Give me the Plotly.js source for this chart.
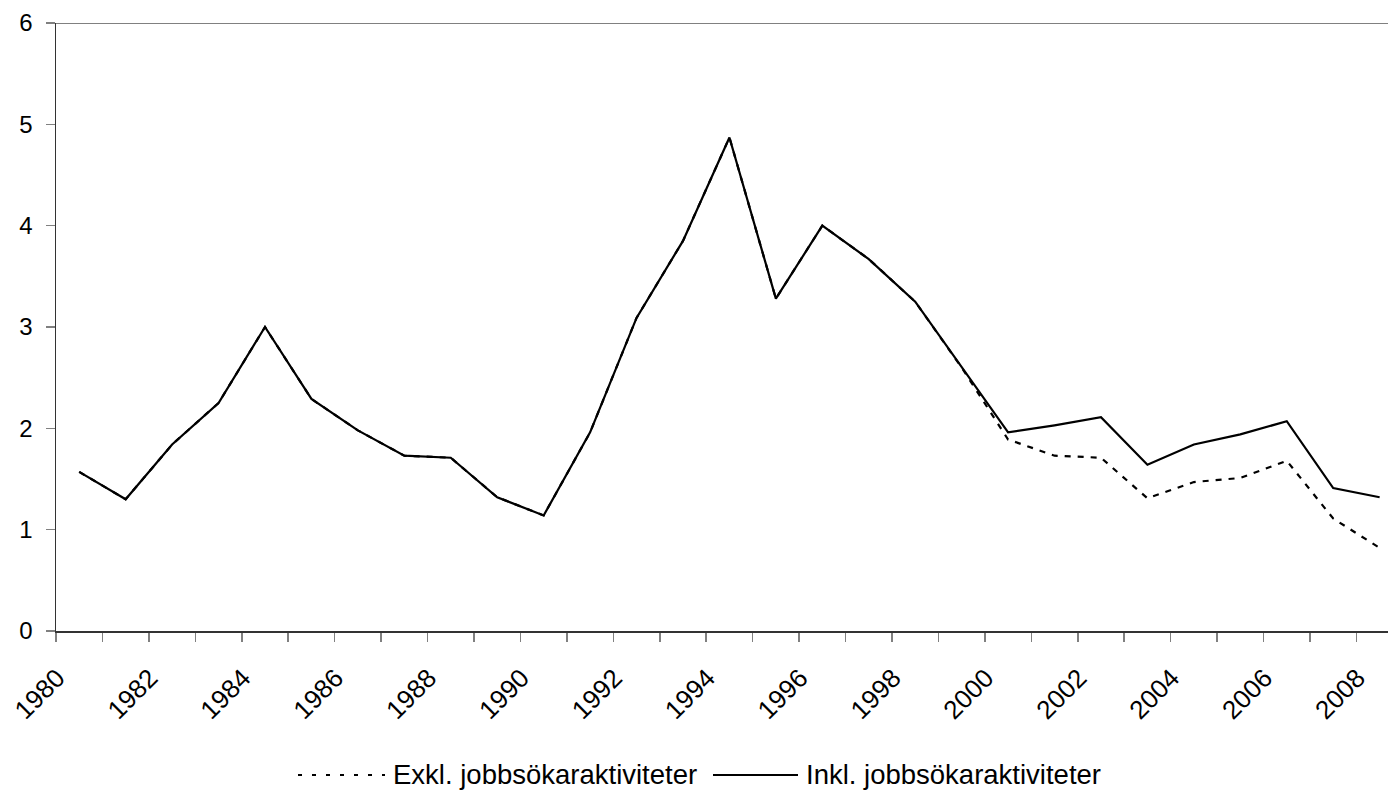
<!DOCTYPE html>
<html>
<head>
<meta charset="utf-8">
<script src="https://cdn.plot.ly/plotly-3.0.1.min.js"></script>
<style>html,body{margin:0;padding:0;overflow:hidden;background:#fff;}#chart{width:1388px;height:790px;}</style>
</head>
<body>
<div id="chart"></div>
<script>
const years = [1980,1981,1982,1983,1984,1985,1986,1987,1988,1989,1990,1991,1992,1993,1994,1995,1996,1997,1998,1999,2000,2001,2002,2003,2004,2005,2006,2007,2008];
const inkl = [1.57,1.30,1.84,2.25,3.00,2.29,1.98,1.73,1.71,1.32,1.14,1.96,3.09,3.85,4.87,3.28,4.00,3.67,3.25,2.60,1.96,2.03,2.11,1.64,1.84,1.94,2.07,1.41,1.32];
const exkl = [1.57,1.30,1.84,2.25,3.00,2.29,1.98,1.73,1.71,1.32,1.14,1.96,3.09,3.85,4.87,3.28,4.00,3.67,3.25,2.60,1.89,1.73,1.71,1.31,1.47,1.51,1.68,1.11,0.82];
const tickYears = [1980,1982,1984,1986,1988,1990,1992,1994,1996,1998,2000,2002,2004,2006,2008];
const tickLabels = tickYears.map(String);
const yTicks = [0,1,2,3,4,5,6];
const seriesNames = ['Exkl. jobbsökaraktiviteter','Inkl. jobbsökaraktiviteter'];

const FONT = 'Liberation Sans, Arial, sans-serif';

const traces = [
  {x: years, y: exkl, type:'scatter', mode:'lines', name: seriesNames[0],
   line:{color:'#000', width:2.2, dash:'6px,7px'}, showlegend:false},
  {x: years, y: inkl, type:'scatter', mode:'lines', name: seriesNames[1],
   line:{color:'#000', width:2.2}, showlegend:false}
];

function px2x(px){ return (px-56)/1332; }
function py2y(py){ return (631-py)/608; }

const layout = {
  width:1388, height:790,
  margin:{l:56, r:0, t:23, b:159, pad:0},
  paper_bgcolor:'#fff', plot_bgcolor:'#fff',
  font:{family:FONT, color:'#000'},
  showlegend:false,
  xaxis:{
    type:'linear', range:[1979.5, 2008.18],
    tickmode:'array', tickvals: tickYears, ticktext: tickLabels,
    ticks:'', tickangle:-45,
    showline:true, linecolor:'#333', linewidth:1.5,
    showgrid:false, zeroline:false,
    tickfont:{family:FONT, size:26, color:'#000'},
    ticklabelshift:-22, ticklabelstandoff:20,
    minor:{tickmode:'linear', tick0:1979.5, dtick:1, ticks:'outside', ticklen:9, tickcolor:'#808080', tickwidth:1.5, showgrid:false}
  },
  yaxis:{
    range:[0,6], tickmode:'array', tickvals:yTicks,
    ticks:'outside', ticklen:9, tickcolor:'#808080', tickwidth:1.5,
    showline:true, linecolor:'#333', linewidth:1.5,
    showgrid:false, zeroline:false,
    tickfont:{family:FONT, size:24, color:'#000'},
    ticklabelstandoff:8
  },
  shapes:[
    {type:'line', xref:'paper', yref:'y', x0:0, x1:1, y0:6, y1:6, line:{color:'#808080', width:2}},
    {type:'line', xref:'paper', yref:'paper', x0:px2x(298), x1:px2x(385), y0:py2y(775), y1:py2y(775), line:{color:'#000', width:2.2, dash:'4px,10px'}},
    {type:'line', xref:'paper', yref:'paper', x0:px2x(713), x1:px2x(798), y0:py2y(775), y1:py2y(775), line:{color:'#000', width:2}}
  ],
  annotations:[
    {xref:'paper', yref:'paper', x:px2x(391), y:py2y(774), xanchor:'left', yanchor:'middle', showarrow:false, text:seriesNames[0], font:{family:FONT, size:27.5, color:'#000'}},
    {xref:'paper', yref:'paper', x:px2x(804), y:py2y(774), xanchor:'left', yanchor:'middle', showarrow:false, text:seriesNames[1], font:{family:FONT, size:27.5, color:'#000'}}
  ]
};

Plotly.newPlot('chart', traces, layout, {displayModeBar:false, staticPlot:true});
</script>
</body>
</html>
